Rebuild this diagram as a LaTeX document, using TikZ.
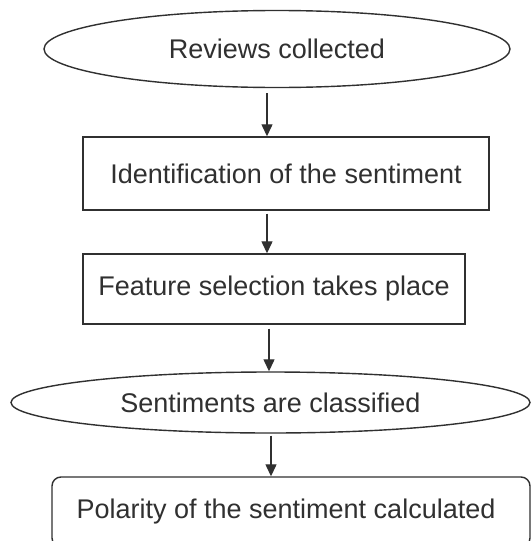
\documentclass[tikz,border=0pt]{standalone}
\usepackage{fontspec}
\setmainfont{Liberation Sans}
\usetikzlibrary{shapes.geometric,arrows.meta}
\definecolor{ink}{HTML}{303030}
\tikzset{
  box/.style={draw=ink, line width=1.4pt, inner sep=0pt, text=ink, font=\fontsize{27}{32}\selectfont},
  oval/.style={box, ellipse},
  arr/.style={draw=ink, line width=1.3pt, -{Triangle[length=12pt,width=11pt]}}
}
\begin{document}
\begin{tikzpicture}[x=1pt,y=-1pt]
\useasboundingbox (0,0) rectangle (532,541);
\fill[white] (0,0) rectangle (532,541);
\node[oval, minimum width=466pt, minimum height=77pt] (e1) at (277,49) {Reviews collected};
\node[box, minimum width=406pt, minimum height=73pt] (r1) at (286,173.5) {Identification of the sentiment};
\node[box, minimum width=382pt, minimum height=70pt] (r2) at (274,289) {Feature selection takes place};
\node[oval, minimum width=519pt, minimum height=61pt] (e2) at (270.5,402.5) {Sentiments are classified};
\node[box, rounded corners=9pt, minimum width=478pt, minimum height=70pt] (r3) at (291,512) {\hspace*{-10pt}Polarity of the sentiment calculated};
\draw[arr, shorten <=5pt] ([xshift=-10pt]e1.south) -- ([xshift=-10pt]e1.south |- r1.north);
\draw[arr, shorten <=3pt] ([xshift=-19pt]r1.south) -- ([xshift=-19pt]r1.south |- r2.north);
\draw[arr, shorten <=4pt] ([xshift=-5pt]r2.south) -- ([xshift=-5pt]r2.south |- e2.north);
\draw[arr, shorten <=2pt] ([xshift=0.5pt]e2.south) -- ([xshift=0.5pt]e2.south |- r3.north);
\end{tikzpicture}
\end{document}
